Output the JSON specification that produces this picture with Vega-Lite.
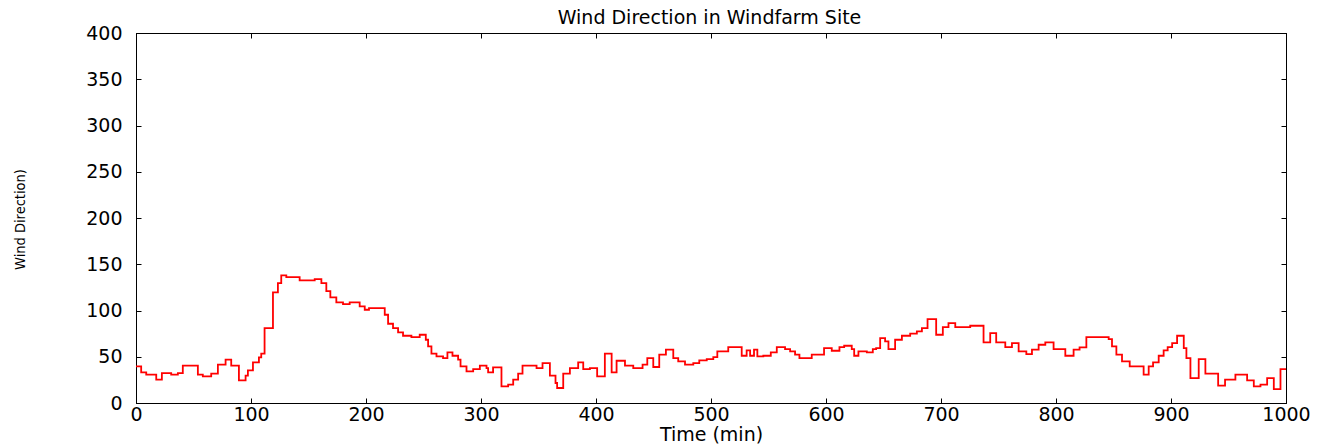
{
  "$schema": "https://vega.github.io/schema/vega-lite/v6.json",
  "width": 1150,
  "height": 370,
  "autosize": "none",
  "padding": {"left": 136, "top": 33, "right": 40, "bottom": 44},
  "background": "#ffffff",
  "config": {"view": {"stroke": "#000000", "strokeWidth": 1}, "font": "DejaVu Sans"},
  "data": {"values": [
    {"t": 0, "v": 39.6}, {"t": 4.5, "v": 33.1}, {"t": 8.9, "v": 30.6}, {"t": 17.6, "v": 25.2}, {"t": 22.5, "v": 32.4},
    {"t": 30.6, "v": 30.6}, {"t": 36.4, "v": 32.4}, {"t": 40.7, "v": 40.3}, {"t": 53.8, "v": 30.6}, {"t": 58.1, "v": 28.8},
    {"t": 65.4, "v": 31.7}, {"t": 71.2, "v": 41.4}, {"t": 77.9, "v": 46.8}, {"t": 82.8, "v": 40.3}, {"t": 89.5, "v": 24.5},
    {"t": 95.3, "v": 29.5}, {"t": 97.3, "v": 35.3}, {"t": 101.7, "v": 43.9}, {"t": 106.9, "v": 49.3}, {"t": 108.9, "v": 53.3},
    {"t": 111.8, "v": 81}, {"t": 119.1, "v": 119.5}, {"t": 123.4, "v": 129.6}, {"t": 126.3, "v": 137.9}, {"t": 130.7, "v": 136},
    {"t": 142.3, "v": 132.5}, {"t": 155.4, "v": 133.9}, {"t": 161.2, "v": 129.6}, {"t": 165.5, "v": 121}, {"t": 169, "v": 114.2},
    {"t": 174.2, "v": 108.7}, {"t": 180, "v": 107}, {"t": 185.8, "v": 108.7}, {"t": 194.5, "v": 104.4}, {"t": 198.9, "v": 100.8},
    {"t": 202.6, "v": 102.6}, {"t": 216.3, "v": 95.4}, {"t": 219.2, "v": 85.7}, {"t": 223.5, "v": 81}, {"t": 227.9, "v": 76.3},
    {"t": 232.2, "v": 72.7}, {"t": 239.5, "v": 71.3}, {"t": 246.7, "v": 73.8}, {"t": 252, "v": 68.4}, {"t": 254, "v": 61.2},
    {"t": 256.9, "v": 53.3}, {"t": 261.3, "v": 50.4}, {"t": 267, "v": 48.6}, {"t": 270.8, "v": 54.7}, {"t": 275.2, "v": 51.1},
    {"t": 280.1, "v": 46.8}, {"t": 282.2, "v": 39.6}, {"t": 287.4, "v": 34.2}, {"t": 293.2, "v": 36.7}, {"t": 299, "v": 40.3},
    {"t": 304.8, "v": 37.8}, {"t": 306.2, "v": 33.1}, {"t": 310.5, "v": 38.5}, {"t": 317.8, "v": 18}, {"t": 323.6, "v": 19.8},
    {"t": 328, "v": 25.2}, {"t": 332.3, "v": 31.7}, {"t": 336.1, "v": 40.3}, {"t": 348.3, "v": 37.8}, {"t": 353.5, "v": 43.2},
    {"t": 359.9, "v": 29.5}, {"t": 364.8, "v": 21.6}, {"t": 366.2, "v": 16.2}, {"t": 371.5, "v": 31.7}, {"t": 377.3, "v": 37.8},
    {"t": 384.5, "v": 43.9}, {"t": 388.9, "v": 36.7}, {"t": 394.7, "v": 37.8}, {"t": 401, "v": 28.8}, {"t": 407.7, "v": 53.3},
    {"t": 413.6, "v": 33.1}, {"t": 417.9, "v": 45.7}, {"t": 425.2, "v": 40.3}, {"t": 432.4, "v": 37.8}, {"t": 440.5, "v": 41.4},
    {"t": 444.6, "v": 48.6}, {"t": 449.8, "v": 38.9}, {"t": 455, "v": 52.2}, {"t": 460.8, "v": 57.6}, {"t": 467.2, "v": 48.6},
    {"t": 471.5, "v": 45}, {"t": 477.4, "v": 41.4}, {"t": 484.6, "v": 43.2}, {"t": 489.8, "v": 46}, {"t": 496.3, "v": 47.5},
    {"t": 502, "v": 49.7}, {"t": 505.5, "v": 55.8}, {"t": 515, "v": 60.5}, {"t": 526.7, "v": 51.1}, {"t": 531, "v": 56.9},
    {"t": 534, "v": 51.1}, {"t": 537.4, "v": 57.6}, {"t": 540.3, "v": 50.4}, {"t": 545.5, "v": 51.1}, {"t": 552, "v": 54.7},
    {"t": 557.2, "v": 60.5}, {"t": 564.4, "v": 58.3}, {"t": 568.8, "v": 55.8}, {"t": 573.1, "v": 52.2}, {"t": 576.9, "v": 48.6},
    {"t": 587.6, "v": 52.2}, {"t": 598.3, "v": 59.4}, {"t": 605, "v": 56.5}, {"t": 611.7, "v": 60.5}, {"t": 615.8, "v": 61.9},
    {"t": 622.4, "v": 58.3}, {"t": 624.5, "v": 51.1}, {"t": 628.2, "v": 55.8}, {"t": 635.5, "v": 54.7}, {"t": 640.7, "v": 58.3},
    {"t": 643.6, "v": 59.4}, {"t": 647.1, "v": 70.2}, {"t": 651.4, "v": 66.6}, {"t": 654.3, "v": 58.3}, {"t": 660.1, "v": 68.4},
    {"t": 666, "v": 72.7}, {"t": 673.2, "v": 74.9}, {"t": 679, "v": 77.4}, {"t": 683.4, "v": 81}, {"t": 688.3, "v": 90.7},
    {"t": 695.8, "v": 73.8}, {"t": 701.6, "v": 82.1}, {"t": 706.5, "v": 86.4}, {"t": 712.4, "v": 82.1}, {"t": 725.4, "v": 83.5},
    {"t": 737, "v": 65.5}, {"t": 742.8, "v": 75.6}, {"t": 748, "v": 65.5}, {"t": 755.9, "v": 60.5}, {"t": 761.7, "v": 64.8},
    {"t": 767.5, "v": 55.8}, {"t": 774.2, "v": 52.9}, {"t": 779.1, "v": 57.6}, {"t": 784.9, "v": 63}, {"t": 790.7, "v": 65.5},
    {"t": 797.9, "v": 58.3}, {"t": 808.1, "v": 51.1}, {"t": 815.3, "v": 57.6}, {"t": 820.5, "v": 60.1}, {"t": 826.4, "v": 71.3},
    {"t": 845.8, "v": 69.1}, {"t": 848.7, "v": 61.2}, {"t": 852.5, "v": 52.2}, {"t": 857.4, "v": 45}, {"t": 864.1, "v": 39.6},
    {"t": 876.2, "v": 30.6}, {"t": 880.6, "v": 39.6}, {"t": 884.4, "v": 43.9}, {"t": 889.3, "v": 51.1}, {"t": 893.6, "v": 56.9},
    {"t": 897.1, "v": 60.5}, {"t": 901, "v": 64.8}, {"t": 905.3, "v": 72.7}, {"t": 911.1, "v": 59.4}, {"t": 913.4, "v": 48.6},
    {"t": 916.9, "v": 27}, {"t": 924.1, "v": 47.5}, {"t": 929.9, "v": 31.7}, {"t": 941, "v": 18.7}, {"t": 947, "v": 25.2},
    {"t": 956, "v": 30.6}, {"t": 966.2, "v": 24.5}, {"t": 972, "v": 18}, {"t": 977.8, "v": 19.8}, {"t": 983.6, "v": 27},
    {"t": 989.4, "v": 15}, {"t": 995.2, "v": 36.7}, {"t": 1000, "v": 36.7}
  ]},
  "layer": [
    {
      "mark": {"type": "line", "interpolate": "step-after", "color": "#ff0000", "strokeWidth": 1.8},
      "encoding": {
        "x": {"field": "t", "type": "quantitative", "scale": {"domain": [0, 1000], "nice": false},
          "axis": {"orient": "bottom", "values": [0, 100, 200, 300, 400, 500, 600, 700, 800, 900, 1000], "format": "d", "grid": false,
            "tickSize": -5, "tickColor": "#000000", "domainColor": "#000000", "labelPadding": 7, "labelFlush": false,
            "labelFont": "DejaVu Sans", "labelFontSize": 19, "labelColor": "#000000",
            "title": "Time (min)", "titleFont": "DejaVu Sans", "titleFontSize": 19, "titleFontWeight": "normal", "titleColor": "#000000",
            "titleBaseline": "middle", "titleY": 31}},
        "y": {"field": "v", "type": "quantitative", "scale": {"domain": [0, 400], "nice": false},
          "axis": {"orient": "left", "values": [0, 50, 100, 150, 200, 250, 300, 350, 400], "format": "d", "grid": false,
            "tickSize": -5, "tickColor": "#000000", "domainColor": "#000000", "labelPadding": 19, "labelFlush": false,
            "labelFont": "DejaVu Sans", "labelFontSize": 19, "labelColor": "#000000",
            "title": "Wind Direction)", "titleFont": "Liberation Sans Narrow, DejaVu Sans Condensed, Liberation Sans", "titleFontSize": 14.5, "titleFontWeight": "normal", "titleColor": "#000000",
            "titleAngle": -90, "titleAlign": "center", "titleBaseline": "middle", "titleX": -116, "titleY": 186}}
      }
    },
    {
      "mark": {"type": "line", "interpolate": "step-after", "opacity": 0},
      "encoding": {
        "x": {"field": "t", "type": "quantitative", "scale": {"domain": [0, 1000], "nice": false},
          "axis": {"orient": "top", "values": [0, 100, 200, 300, 400, 500, 600, 700, 800, 900, 1000], "grid": false,
            "tickSize": -5, "tickColor": "#000000", "domainColor": "#000000", "labels": false,
            "title": "Wind Direction in Windfarm Site", "titleFont": "DejaVu Sans", "titleFontSize": 19, "titleFontWeight": "normal", "titleColor": "#000000",
            "titleAlign": "center", "titleBaseline": "alphabetic", "titleX": 573, "titleY": -10}},
        "y": {"field": "v", "type": "quantitative", "scale": {"domain": [0, 400], "nice": false},
          "axis": {"orient": "right", "values": [0, 50, 100, 150, 200, 250, 300, 350, 400], "grid": false,
            "tickSize": -5, "tickColor": "#000000", "domainColor": "#000000", "labels": false, "title": null}}
      }
    }
  ],
  "resolve": {"axis": {"x": "independent", "y": "independent"}}
}
